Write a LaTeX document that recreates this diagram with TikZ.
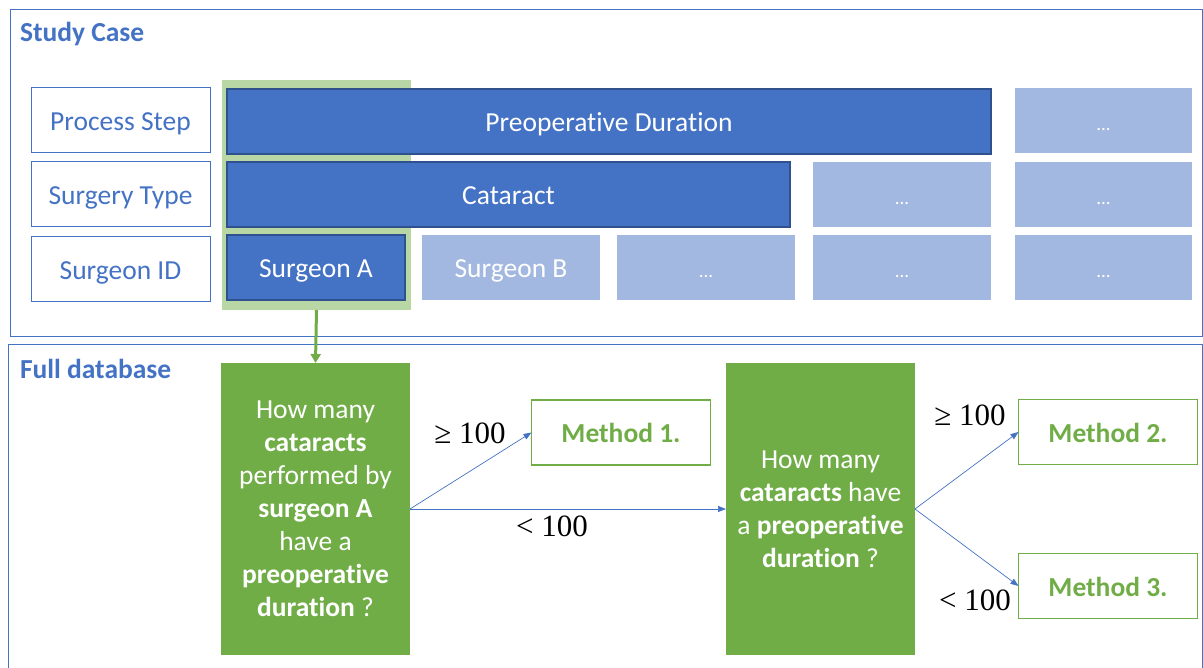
\documentclass[tikz,border=0pt]{standalone}
\usepackage{fontspec}
\setmainfont{Carlito}[Ligatures=NoCommon]
\newfontfamily\tms{Liberation Serif}
\usetikzlibrary{arrows.meta}
\definecolor{mblue}{HTML}{4472C4}
\definecolor{dblue}{HTML}{2F528F}
\definecolor{lblue}{HTML}{A2B8E0}
\definecolor{mgreen}{HTML}{70AD47}
\definecolor{lgreen}{HTML}{B9D7A5}
\begin{document}
\begin{tikzpicture}[x=1pt,y=-1pt,
  every node/.style={inner sep=0pt, outer sep=0pt, font=\fontsize{27.5}{33}\selectfont},
  frame/.style={draw=mblue, line width=1pt},
  title/.style={text=mblue, font=\fontsize{27.5}{33}\selectfont\bfseries, anchor=west},
  oneline/.style={text height=26.4pt, text depth=5.5pt},
  lab/.style={oneline, draw=mblue, line width=1pt, text=mblue, minimum width=179pt, minimum height=65pt},
  dark/.style={oneline, draw=dblue, fill=mblue, line width=1.2pt, text=white, minimum height=65pt},
  light/.style={oneline, fill=lblue, text=white, minimum height=65pt, minimum width=178pt},
  dots/.style={light, font=\fontsize{19}{20}\selectfont, text height=20pt, text depth=0pt},
  quest/.style={fill=mgreen, text=white, minimum width=189pt, minimum height=292pt, align=center},
  meth/.style={oneline, draw=mgreen, line width=1.2pt, text=mgreen, font=\fontsize{27.5}{33}\selectfont\bfseries, minimum width=179pt, minimum height=65pt},
  conn/.style={draw=mblue, line width=0.7pt, -{Triangle[length=8pt,width=6pt]}},
  cond/.style={font=\fontsize{31}{33}\selectfont\tms}
]
\useasboundingbox (0,0) rectangle (1203,668);
\begin{scope}
\clip (0,0) rectangle (1203,668);
% frames
\draw[frame] (10,10) rectangle (1202,337);
\draw[frame] (8,345) rectangle (1202,700);
\node[title] (tstudy) at (20,34) {Study Case};
\node[title] (tfull) at (20,369) {Full database};
% highlight
\node[fill=lgreen, minimum width=189pt, minimum height=230pt] (hl) at (316.5,195) {};
% label column
\node[lab] (lps) at (120.5,120.5) {Process Step};
\node[lab] (lst) at (120.5,194.5) {Surgery Type};
\node[lab] (lsi) at (120.5,269) {Surgeon ID};
% dark blocks
\node[dark, minimum width=764pt] (pd) at (609,121.5) {Preoperative Duration};
\node[dark, minimum width=563pt] (cat) at (508.5,194.5) {Cataract};
\node[dark, minimum width=178pt] (sa) at (316,267.5) {Surgeon A};
% light blocks
\node[light] (sb) at (511,267.5) {Surgeon B};
\node[dots] (d1) at (706,267.5) {...};
\node[dots] (d2) at (902,267.5) {...};
\node[dots] (d3) at (902,194.5) {...};
\node[dots, minimum width=177pt] (d4) at (1103.5,121) {...};
\node[dots, minimum width=177pt] (d5) at (1103.5,194.5) {...};
\node[dots, minimum width=177pt] (d6) at (1103.5,267.5) {...};
% questions
\node[quest] (q1) at (315.5,509) {How many\\\textbf{cataracts}\\performed by\\\textbf{surgeon A}\\have a\\\textbf{preoperative}\\\textbf{duration} ?};
\node[quest] (q2) at (820.5,509) {How many\\\textbf{cataracts} have\\a \textbf{preoperative}\\\textbf{duration} ?};
% methods
\node[meth] (m1) at (621,432.5) {Method 1.};
\node[meth] (m2) at (1108,432) {Method 2.};
\node[meth] (m3) at (1108,586) {Method 3.};
% connectors
\draw[mgreen, line width=3pt, -{Triangle[length=9pt,width=10pt]}] (hl.south) -- (q1.north);
\draw[conn] (q1.east) -- (m1.west);
\draw[conn] (q1.east) -- (q2.west);
\draw[conn] (q2.east) -- (m2.west);
\draw[conn] (q2.east) -- (m3.west);
% conditions
\node[cond] (c1) at (470,433) {≥ 100};
\node[cond] (c2) at (552,526) {< 100};
\node[cond] (c3) at (970,415) {≥ 100};
\node[cond] (c4) at (975,600) {< 100};
\end{scope}
\end{tikzpicture}
\end{document}
